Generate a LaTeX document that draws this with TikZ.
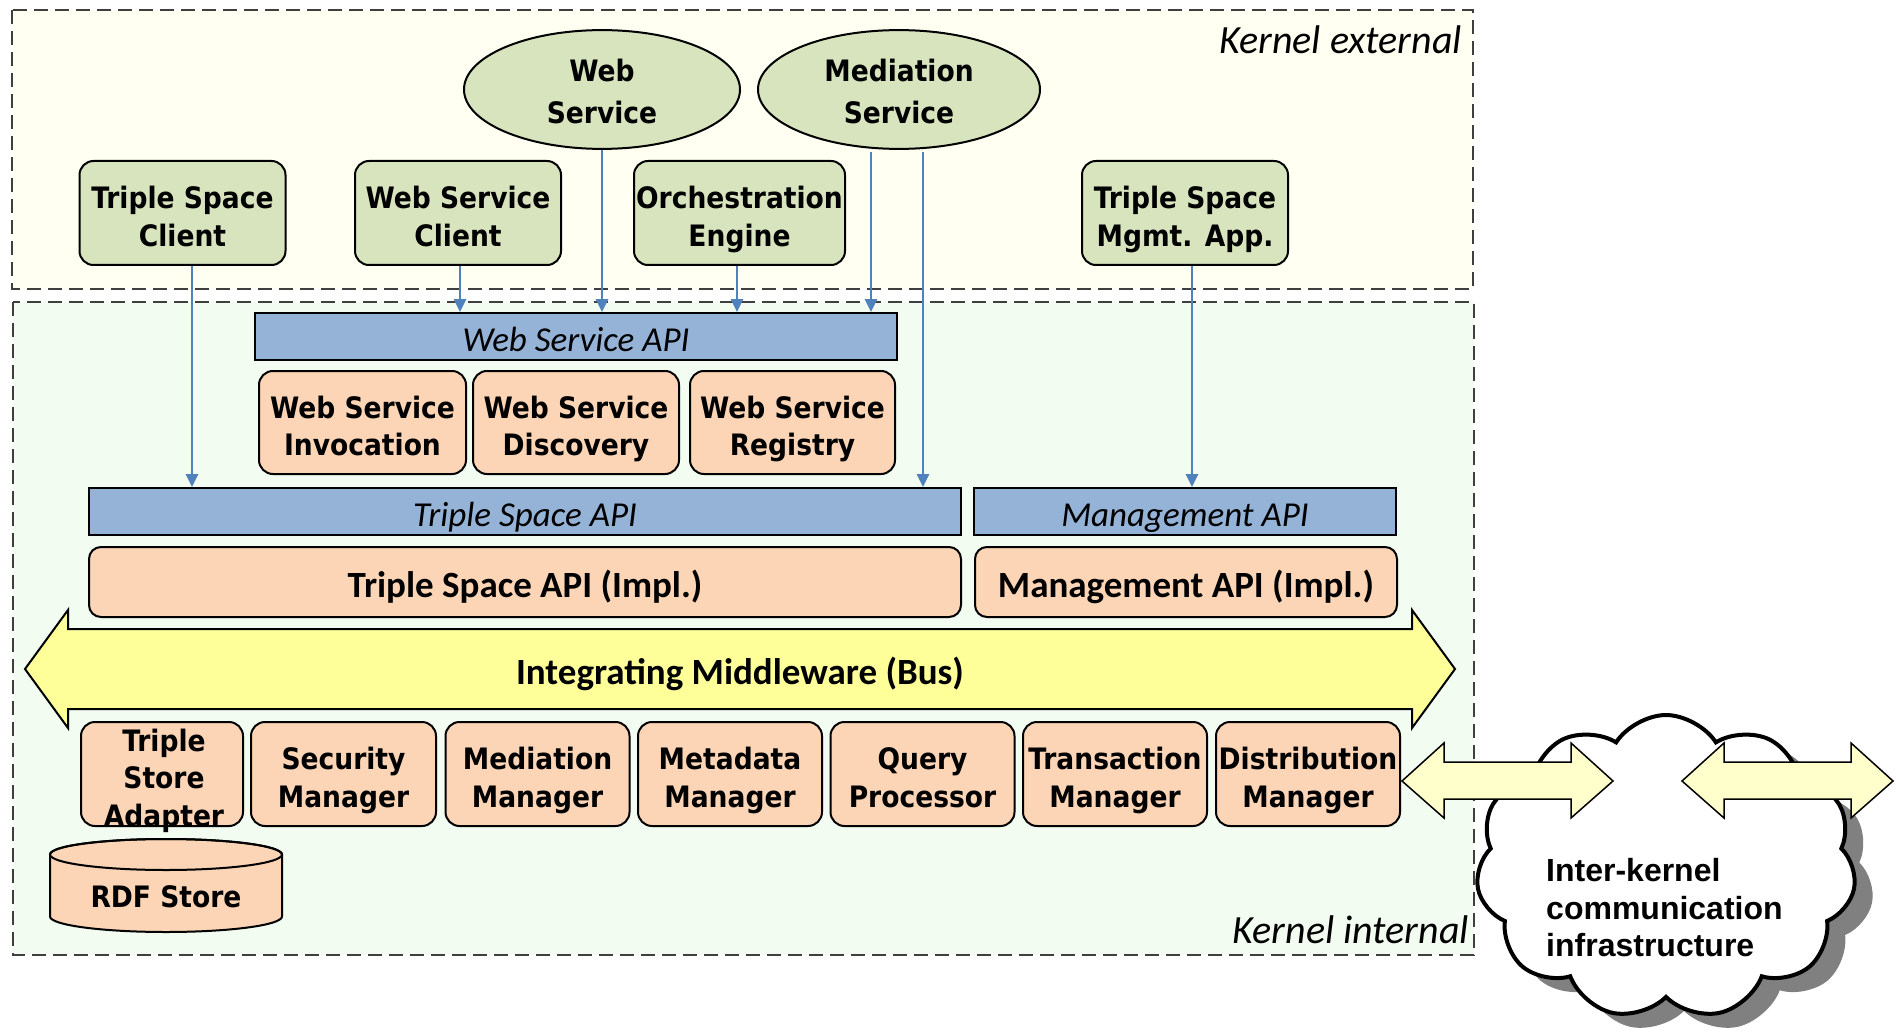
\documentclass[tikz,border=0pt]{standalone}
\usepackage{fontspec}
\setmainfont{Carlito}
\newfontfamily\boxfontfam{DejaVu Sans Condensed}
\newfontfamily\cloudfontfam{Liberation Sans}
\usetikzlibrary{shapes.geometric,shapes.symbols,arrows.meta}
\definecolor{gfill}{HTML}{D7E4BD}
\definecolor{bfill}{HTML}{95B3D7}
\definecolor{ofill}{HTML}{FBD5B5}
\definecolor{busfill}{HTML}{FFFF99}
\definecolor{extfill}{HTML}{FFFFF2}
\definecolor{intfill}{HTML}{F3FCF1}
\definecolor{darrfill}{HTML}{FFFFCC}
\definecolor{arrblue}{HTML}{4F81BD}
\definecolor{dashgray}{HTML}{3F3F3F}
\newcommand\myBox{\boxfontfam\fontsize{29.5}{37.5}\selectfont\bfseries}
\newcommand\myBoxE{\boxfontfam\fontsize{29.5}{42}\selectfont\bfseries}
\newcommand\myCal{\fontsize{37}{40}\selectfont\bfseries}
\newcommand\myItal{\fontsize{35}{40}\selectfont\itshape}
\newcommand\myLab{\fontsize{40}{44}\selectfont\itshape}
\newcommand\myCloud{\cloudfontfam\fontsize{32}{37.5}\selectfont\bfseries}
\newcommand\lowtxt[2][7pt]{\raisebox{-#1}[\height][\depth]{\begin{tabular}{@{}c@{}}#2\end{tabular}}}
\begin{document}
\begin{tikzpicture}[x=1pt,y=-1pt,
  region/.style={draw=dashgray, line width=2.5pt, dash pattern=on 14pt off 7pt},
  gbox/.style={draw=black, line width=2pt, fill=gfill, rounded corners=14pt, inner sep=0pt, font=\myBox},
  obox/.style={gbox, fill=ofill},
  cbox/.style={obox, rounded corners=12pt, font=\myCal},
  bar/.style={draw=black, line width=2pt, fill=bfill, inner sep=0pt, font=\myItal},
  ell/.style={ellipse, draw=black, line width=2pt, fill=gfill, inner sep=0pt, font=\myBoxE},
  conn/.style={draw=arrblue, line width=2.7pt, -{Triangle[length=13pt,width=12pt]}},
  blockarrow/.style={draw=black, line width=1.5pt, line join=miter},
  cloudshape/.style={cloud, cloud puffs=11, cloud puff arc=115, aspect=1.2, inner sep=0pt, minimum width=380pt, minimum height=304pt},
]
\useasboundingbox (0,0) rectangle (1896,1035);
% regions
\draw[region, fill=extfill] (12,10) rectangle (1473,289);
\draw[region, fill=intfill] (13,302) rectangle (1474,955);
\node[anchor=east, font=\myLab, inner sep=0pt] (kext) at (1462,40) {Kernel external};
\node[anchor=east, font=\myLab, inner sep=0pt] (kint) at (1469,930) {Kernel internal};

% external components
\node[ell, minimum width=276pt, minimum height=117pt] (ws) at (602,89.5) {\lowtxt[4.5pt]{Web\\Service}};
\node[ell, minimum width=282pt, minimum height=117pt] (ms) at (899,89.5) {\lowtxt[4.5pt]{Mediation\\Service}};
\node[gbox, minimum width=206pt, minimum height=104pt] (tsc) at (182.5,213) {\lowtxt{Triple Space\\Client}};
\node[gbox, minimum width=206pt, minimum height=104pt] (wsc) at (458,213) {\lowtxt{Web Service\\Client}};
\node[gbox, minimum width=211pt, minimum height=104pt] (oe) at (739.5,213) {\lowtxt{Orchestration\\Engine}};
\node[gbox, minimum width=206pt, minimum height=104pt] (tsm) at (1185,213) {\lowtxt{Triple Space\\Mgmt. App.}};

% web service layer
\node[bar, minimum width=642pt, minimum height=47pt] (wsapi) at (576,336.5) {\lowtxt{Web Service API}};
\node[obox, minimum width=207pt, minimum height=103pt] (wsi) at (362.5,422.5) {\lowtxt{Web Service\\Invocation}};
\node[obox, minimum width=206pt, minimum height=103pt] (wsd) at (576,422.5) {\lowtxt{Web Service\\Discovery}};
\node[obox, minimum width=205pt, minimum height=103pt] (wsr) at (792.5,422.5) {\lowtxt{Web Service\\Registry}};

% APIs
\node[bar, minimum width=872pt, minimum height=47pt] (tsapi) at (525,511.5) {\lowtxt{Triple Space API}};
\node[bar, minimum width=422pt, minimum height=47pt] (mapi) at (1185,511.5) {\lowtxt{Management API}};
\node[cbox, minimum width=872pt, minimum height=70pt] (tsimpl) at (525,582) {\lowtxt{Triple Space API (Impl.)}};
\node[cbox, minimum width=422pt, minimum height=70pt] (mimpl) at (1186,582) {\lowtxt{Management API (Impl.)}};

% bus
\path[blockarrow, line width=2pt, fill=busfill] (25,669) -- (68,610) -- (68,629) -- (1412,629) -- (1412,610) -- (1455,669) -- (1412,728) -- (1412,709) -- (68,709) -- (68,728) -- cycle;
\node[font=\myCal, inner sep=0pt] (bus) at (740,669) {\lowtxt{Integrating Middleware (Bus)}};

% bottom components
\node[obox, minimum width=162pt, minimum height=104pt] (tsa) at (162,774) {};
\node[font=\myBox, inner sep=0pt] (tsatext) at (164,774) {\lowtxt{Triple\\Store\\Adapter}};
\node[obox, minimum width=185pt, minimum height=104pt] (sec) at (343.5,774) {\lowtxt{Security\\Manager}};
\node[obox, minimum width=184pt, minimum height=104pt] (med) at (537.5,774) {\lowtxt{Mediation\\Manager}};
\node[obox, minimum width=184pt, minimum height=104pt] (meta) at (730,774) {\lowtxt{Metadata\\Manager}};
\node[obox, minimum width=184pt, minimum height=104pt] (qp) at (922.5,774) {\lowtxt{Query\\Processor}};
\node[obox, minimum width=184pt, minimum height=104pt] (tm) at (1115,774) {\lowtxt{Transaction\\Manager}};
\node[obox, minimum width=184pt, minimum height=104pt] (dm) at (1308,774) {\lowtxt{Distribution\\Manager}};

% RDF store cylinder
\path[draw=black, line width=2pt, fill=ofill] (50,854.5) -- (50,916.5) arc[start angle=180, end angle=0, x radius=116, y radius=15.5] -- (282,854.5) arc[start angle=0, end angle=-180, x radius=116, y radius=15.5] -- cycle;
\draw[line width=2pt] (166,854.5) ellipse[x radius=116, y radius=15.5];
\node[font=\myBox, inner sep=0pt] (rdf) at (166,893) {\lowtxt{RDF Store}};

% connectors
\draw[conn] ([xshift=9.5pt]tsc.south) -- ([xshift=9.5pt]tsc.south |- tsapi.north);
\draw[conn] ([xshift=2pt]wsc.south) -- ([xshift=2pt]wsc.south |- wsapi.north);
\draw[conn] (ws.south) -- (ws.south |- wsapi.north);
\draw[conn] ([xshift=-2.5pt]oe.south) -- ([xshift=-2.5pt]oe.south |- wsapi.north);
\draw[conn] ([xshift=-28pt,yshift=-2pt]ms.south) -- ([xshift=-28pt]ms.south |- wsapi.north);
\draw[conn] ([xshift=24pt,yshift=-2pt]ms.south) -- ([xshift=24pt]ms.south |- tsapi.north);
\draw[conn] ([xshift=7pt]tsm.south) -- ([xshift=7pt]tsm.south |- mapi.north);

% cloud
\node[cloudshape, fill=black!50] (cloudsh) at (1684,881) {};
\node[cloudshape, draw=black, line width=4pt, fill=white] (cloudn) at (1666,867) {};
\node[font=\myCloud, align=left, inner sep=0pt, anchor=west] (cloudtext) at (1546,908) {Inter-kernel\\communication\\infrastructure};

% inter-kernel double arrows
\path[blockarrow, fill=darrfill] (1402,781) -- (1444,743) -- (1444,762) -- (1571,762) -- (1571,743) -- (1613,781) -- (1571,818) -- (1571,799) -- (1444,799) -- (1444,818) -- cycle;
\path[blockarrow, fill=darrfill] (1682,781) -- (1724,743) -- (1724,762) -- (1851,762) -- (1851,743) -- (1893,781) -- (1851,818) -- (1851,799) -- (1724,799) -- (1724,818) -- cycle;
\end{tikzpicture}
\end{document}
